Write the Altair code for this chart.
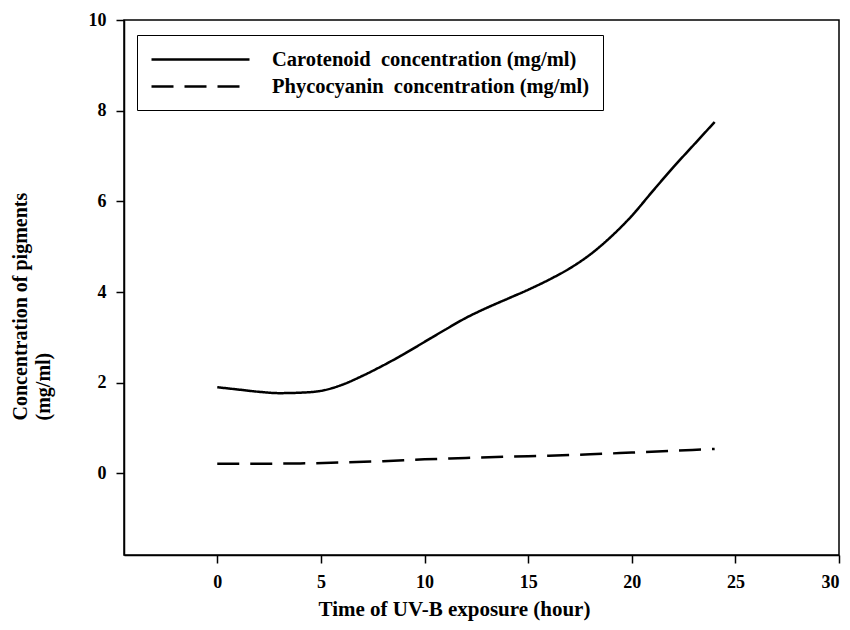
import altair as alt
import pandas as pd

car_label = "Carotenoid\u00a0 concentration (mg/ml)"
phy_label = "Phycocyanin\u00a0 concentration (mg/ml)"

car_time = list(range(0, 25))
car_vals = [1.90, 1.85, 1.80, 1.77, 1.78, 1.82, 1.95, 2.15, 2.38, 2.63, 2.90, 3.17,
            3.43, 3.65, 3.85, 4.05, 4.27, 4.52, 4.83, 5.22, 5.68, 6.22, 6.75, 7.25, 7.75]

phy_time = [0, 4, 6, 8, 10, 12, 14, 16, 18, 20, 22, 24]
phy_vals = [0.21, 0.22, 0.24, 0.27, 0.31, 0.34, 0.37, 0.39, 0.42, 0.46, 0.50, 0.54]

x_ticks = [0, 5, 10, 15, 20, 25, 30]
y_ticks = [0, 2, 4, 6, 8, 10]

df = pd.concat([
    pd.DataFrame({"time": car_time, "conc": car_vals, "series": car_label}),
    pd.DataFrame({"time": phy_time, "conc": phy_vals, "series": phy_label}),
])

FONT = "Liberation Serif"

chart = alt.Chart(df).mark_line(color="black", strokeWidth=2.5, interpolate="monotone").encode(
    x=alt.X("time:Q",
            scale=alt.Scale(domain=[-4.5, 30], nice=False, zero=False),
            axis=alt.Axis(values=x_ticks, title="Time of UV-B exposure (hour)",
                          titleX=330, titleY=54, titleBaseline="middle", titleAlign="center",
                          titleFontSize=21)),
    y=alt.Y("conc:Q",
            scale=alt.Scale(domain=[-1.8, 10], nice=False, zero=False),
            axis=alt.Axis(values=y_ticks, title=["Concentration of pigments", "(mg/ml)"],
                          titleX=-114, titleY=400, titleAngle=270, titleAlign="left",
                          titleBaseline="top", titleLineHeight=23)),
    strokeDash=alt.StrokeDash("series:N",
                              scale=alt.Scale(domain=[car_label, phy_label], range=[[1, 0], [22, 11]]),
                              legend=alt.Legend(title=None, orient="none", legendX=13, legendY=15,
                                                strokeColor="black", fillColor="white", padding=13,
                                                symbolType="M-1,0H8.8", symbolSize=400,
                                                symbolStrokeWidth=2.5, symbolStrokeColor="black",
                                                labelFont=FONT, labelFontSize=20.5, labelFontWeight="bold",
                                                labelOffset=99, labelLimit=600, rowPadding=5,
                                                labelColor="black")),
).properties(
    width=715, height=535,
    autosize=alt.AutoSizeParams(type="none"),
    padding={"left": 116, "top": 12, "right": 3, "bottom": 67},
).configure_view(
    stroke="black", strokeWidth=1.5
).configure_axis(
    labelFont=FONT, labelFontSize=18, labelFontWeight="bold", labelColor="black",
    titleFont=FONT, titleFontSize=20, titleFontWeight="bold", titleColor="black",
    domainColor="black", domainWidth=1.5, tickColor="black", tickWidth=1.5, tickSize=8,
    grid=False, labelPadding=10,
)

chart.save("out.html", embed_options={"renderer": "svg", "actions": False})
